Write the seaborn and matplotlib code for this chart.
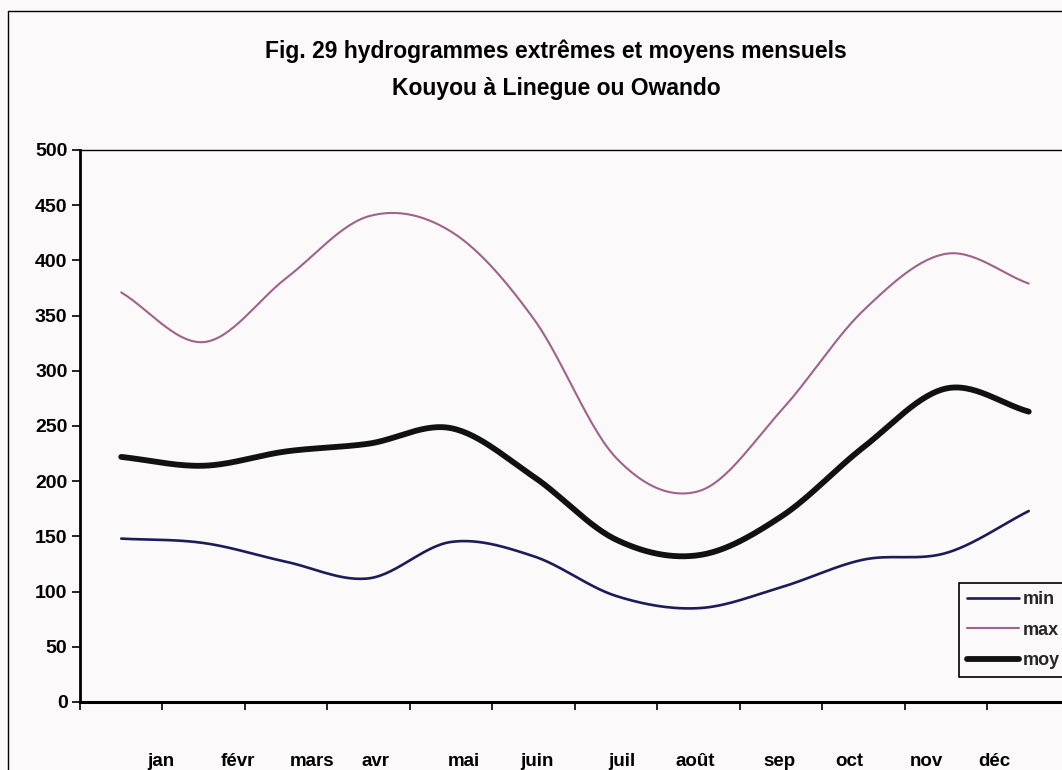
import numpy as np
import pandas as pd
import matplotlib
matplotlib.use("Agg")
from matplotlib import pyplot as plt
from matplotlib.lines import Line2D
import seaborn as sns

# monthly discharges
months = ["jan", "févr", "mars", "avr", "mai", "juin",
          "juil", "août", "sep", "oct", "nov", "déc"]
q_min = [148, 144, 127, 112, 145, 132, 96, 85, 104, 129, 135, 173]
q_max = [371, 326, 384, 440, 426, 347, 221, 191, 264, 355, 406, 379]
q_moy = [222, 214, 227, 234, 248, 204, 147, 133, 168, 231, 284, 263]

# where the month labels sit in the original (they drift from the ticks)
label_pos = [1.48, 2.41, 3.31, 4.08, 5.15, 6.04, 7.07, 7.96, 8.98, 9.83, 10.76, 11.58]


def smooth(vals, n=30):
    """Catmull-Rom curve through the points, like Excel's smoothed line"""
    y = np.asarray(vals, dtype=float)
    x = np.arange(1, len(y) + 1, dtype=float)
    px = np.concatenate([[2 * x[0] - x[1]], x, [2 * x[-1] - x[-2]]])
    py = np.concatenate([[2 * y[0] - y[1]], y, [2 * y[-1] - y[-2]]])
    xs, ys = [], []
    t = np.linspace(0, 1, n, endpoint=False)
    for i in range(1, len(px) - 2):
        for p, out in ((px, xs), (py, ys)):
            p0, p1, p2, p3 = p[i - 1], p[i], p[i + 1], p[i + 2]
            out.extend(0.5 * (2 * p1 + (-p0 + p2) * t
                              + (2 * p0 - 5 * p1 + 4 * p2 - p3) * t ** 2
                              + (-p0 + 3 * p1 - 3 * p2 + p3) * t ** 3))
    xs.append(x[-1])
    ys.append(y[-1])
    return np.array(xs), np.array(ys)


sns.set_theme(style="white")
plt.rcParams["font.family"] = ["Liberation Sans", "DejaVu Sans"]

bg = "#fbf9fa"
W, H = 1062, 770
fig = plt.figure(figsize=(W / 100, H / 100), dpi=100)
fig.patch.set_facecolor(bg)
ax = fig.add_axes([80 / W, 68 / H, 990 / W, 552 / H])
ax.set_facecolor("none")

series = [("min", q_min, "#1d1b58", 1.9),
          ("max", q_max, "#a0628a", 1.5),
          ("moy", q_moy, "#111111", 4.2)]
for name, vals, col, lw in series:
    xs, ys = smooth(vals)
    df = pd.DataFrame({"x": xs, "y": ys})
    sns.lineplot(data=df, x="x", y="y", ax=ax, color=col, linewidth=lw,
                 label=name, sort=False, estimator=None)

ax.set_xlim(0.5, 12.5)
ax.set_ylim(0, 500)
ax.set_yticks(range(0, 501, 50))
ax.set_xticks(np.arange(0.5, 13, 1))
ax.set_xticklabels([])
ax.set_xlabel("")
ax.set_ylabel("")
ax.tick_params(axis="x", bottom=True, direction="out", length=6, width=1.2, color="black")
ax.tick_params(axis="y", left=True, direction="out", length=6, width=1.2, color="black",
               labelsize=14, pad=3, labelcolor="black")
for lab in ax.get_yticklabels():
    lab.set_fontweight("bold")

for pos, m in zip(label_pos, months):
    ax.text(pos, -0.107, m, transform=ax.get_xaxis_transform(), ha="center", va="center",
            fontsize=13.5, fontweight="bold", color="black")

ax.spines["left"].set_linewidth(2)
ax.spines["bottom"].set_linewidth(2.2)
ax.spines["top"].set_linewidth(1)
ax.spines["right"].set_visible(False)
for s in ("left", "bottom", "top"):
    ax.spines[s].set_color("black")

leg = ax.legend(loc="upper left", bbox_to_anchor=(959 / W, 1 - 583 / H),
                bbox_transform=fig.transFigure, frameon=True, fancybox=False,
                edgecolor="black", framealpha=1, facecolor=bg,
                prop={"size": 13, "weight": "bold"}, handlelength=2.9,
                handletextpad=0.2, borderpad=0.45, labelspacing=0.75, borderaxespad=0)
leg.get_frame().set_linewidth(1.2)

fig.text(556 / W, 1 - 51 / H, "Fig. 29 hydrogrammes extrêmes et moyens mensuels",
         ha="center", va="center", fontsize=16.5, fontweight="bold", color="black")
fig.text(556 / W, 1 - 88 / H, "Kouyou à Linegue ou Owando",
         ha="center", va="center", fontsize=16.5, fontweight="bold", color="black")

# outer chart frame of the scan
fig.add_artist(Line2D([8 / W, 8 / W], [0, 1 - 11 / H], transform=fig.transFigure,
                      color="black", lw=1))
fig.add_artist(Line2D([8 / W, 1], [1 - 11 / H, 1 - 11 / H], transform=fig.transFigure,
                      color="black", lw=1))

fig.savefig("out.png", dpi=100, facecolor=bg)
